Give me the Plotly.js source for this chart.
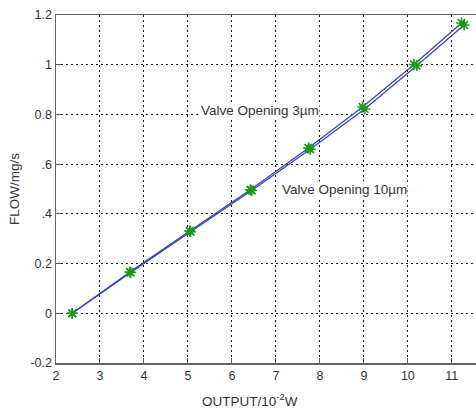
<!DOCTYPE html>
<html>
<head>
<meta charset="utf-8">
<script src="https://cdn.plot.ly/plotly-3.0.1.min.js"></script>
<style>html,body{margin:0;padding:0;background:#fff;}#chart{width:476px;height:411px;}</style>
</head>
<body>
<div id="chart"></div>
<script>
// Valve opening 3 µm
const output3 = [2.37, 3.68, 5.04, 6.42, 7.74, 8.97, 10.14, 11.22];
const flow3   = [0, 0.166, 0.331, 0.497, 0.665, 0.830, 1.001, 1.168];
// Valve opening 10 µm
const output10 = [2.37, 3.70, 5.06, 6.45, 7.78, 9.02, 10.20, 11.28];
const flow10   = [0, 0.164, 0.328, 0.494, 0.660, 0.822, 0.996, 1.160];

const yTickVals = [-0.2, 0, 0.2, 0.4, 0.6, 0.8, 1, 1.2];
const yTickText = ["-0.2", "0", "0.2", ".4", ".6", "0.8", "1", "1.2"];
const xTickVals = [2, 3, 4, 5, 6, 7, 8, 9, 10, 11];

const label3 = "Valve Opening 3µm";
const label10 = "Valve Opening 10µm";

const lineColor = "#3341b3";
const markColor = "#1a9a1a";

function series(x, y, name) {
  return [{
    x: x, y: y, type: "scatter", mode: "lines", name: name,
    line: {color: lineColor, width: 1.2}, showlegend: false
  }, {
    x: x, y: y, type: "scatter", mode: "markers", name: name,
    marker: {symbol: "asterisk-open", size: 9, color: markColor, line: {color: markColor, width: 1.6}},
    showlegend: false
  }];
}

const data = [...series(output3, flow3, label3), ...series(output10, flow10, label10)];

const layout = {
  width: 476, height: 411,
  margin: {l: 56, r: 0, t: 15, b: 48},
  paper_bgcolor: "#fff", plot_bgcolor: "#fff",
  font: {family: "Liberation Sans, Arial, sans-serif", size: 12, color: "#333"},
  xaxis: {
    range: [2, 11.55], tickvals: xTickVals, ticks: "inside", ticklen: 5, tickcolor: "#555",
    showline: true, linecolor: "#666", linewidth: 1.5, mirror: true,
    showgrid: true, gridcolor: "#111", gridwidth: 1, griddash: "2px,3px",
    zeroline: false, tickfont: {size: 12.5, color: "#333"}
  },
  yaxis: {
    range: [-0.2, 1.2], tickvals: yTickVals, ticktext: yTickText, ticks: "inside", ticklen: 5, tickcolor: "#555",
    showline: true, linecolor: "#666", linewidth: 1.5,
    showgrid: true, gridcolor: "#111", gridwidth: 1, griddash: "2px,3px",
    zeroline: false, tickfont: {size: 12.5, color: "#333"},
    title: {text: "FLOW/mg/s", font: {size: 13.5, color: "#333"}, standoff: 7}
  },
  annotations: [
    {x: 5.27, y: 0.817, xref: "x", yref: "y", text: label3, showarrow: false,
     xanchor: "left", yanchor: "middle", bgcolor: "#fff", font: {size: 13.5, color: "#333"}, borderpad: 0},
    {x: 7.11, y: 0.497, xref: "x", yref: "y", text: label10, showarrow: false,
     xanchor: "left", yanchor: "middle", bgcolor: "#fff", font: {size: 13.5, color: "#333"}, borderpad: 0},
    {x: 0.5, y: -0.1, xref: "paper", yref: "paper", text: "OUTPUT/10<sup>-2</sup>W", showarrow: false,
     xanchor: "center", yanchor: "middle", font: {size: 13.5, color: "#333"}}
  ]
};
// place x-axis title in paper coords from its pixel position in the figure
layout.annotations[2].x = (250 - 56) / (476 - 56);
layout.annotations[2].y = -(400 - 363) / (411 - 15 - 48);

Plotly.newPlot("chart", data, layout, {staticPlot: true, displayModeBar: false});
</script>
</body>
</html>
